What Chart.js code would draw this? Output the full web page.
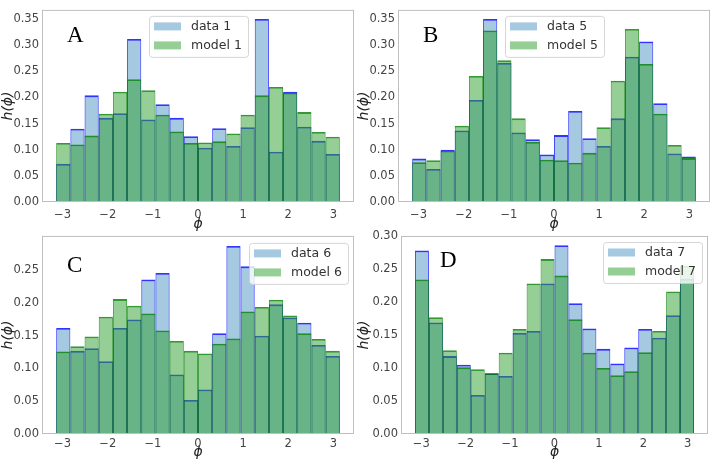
<!DOCTYPE html>
<html lang="en">
<head>
<meta charset="UTF-8" />
<title>h(phi) histograms: data vs model</title>
<script src="https://cdn.jsdelivr.net/npm/chart.js"></script>
<style>
  body { margin: 0; background: #fff; }
  .wrap { position: relative; width: 711px; height: 463px; overflow: hidden; }
  .panel { position: absolute; }
</style>
</head>
<body>
<div class="wrap">
  <div class="panel" style="left:0;top:0"><canvas id="chartA" width="356" height="233"></canvas></div>
  <div class="panel" style="left:356px;top:0"><canvas id="chartB" width="355" height="233"></canvas></div>
  <div class="panel" style="left:0;top:226px"><canvas id="chartC" width="356" height="237"></canvas></div>
  <div class="panel" style="left:356px;top:226px"><canvas id="chartD" width="355" height="237"></canvas></div>
</div>

<script>
// 20 bins over [-pi, pi]
const binCenters = [-2.98451, -2.67035, -2.35619, -2.04204, -1.72788, -1.41372, -1.09956, -0.78540, -0.47124, -0.15708,
                    0.15708, 0.47124, 0.78540, 1.09956, 1.41372, 1.72788, 2.04204, 2.35619, 2.67035, 2.98451];
const xTicks = [-3, -2, -1, 0, 1, 2, 3];
const yTicksAB = [0, 0.05, 0.10, 0.15, 0.20, 0.25, 0.30, 0.35];
const yTicksC = [0, 0.05, 0.10, 0.15, 0.20, 0.25];
const yTicksD = [0, 0.05, 0.10, 0.15, 0.20, 0.25, 0.30];

const data1  = [0.073, 0.140, 0.204, 0.161, 0.170, 0.312, 0.158, 0.187, 0.161, 0.126, 0.104, 0.141, 0.107, 0.143, 0.350, 0.096, 0.211, 0.144, 0.117, 0.092];
const model1 = [0.113, 0.110, 0.127, 0.169, 0.211, 0.235, 0.214, 0.167, 0.135, 0.113, 0.114, 0.116, 0.131, 0.167, 0.204, 0.220, 0.209, 0.172, 0.134, 0.125];

const data5  = [0.083, 0.063, 0.100, 0.137, 0.195, 0.350, 0.266, 0.133, 0.120, 0.091, 0.128, 0.174, 0.122, 0.107, 0.160, 0.278, 0.307, 0.189, 0.093, 0.087];
const model5 = [0.076, 0.080, 0.098, 0.146, 0.241, 0.328, 0.271, 0.160, 0.115, 0.081, 0.080, 0.075, 0.094, 0.143, 0.232, 0.331, 0.264, 0.169, 0.109, 0.084];

const data6  = [0.162, 0.127, 0.131, 0.111, 0.162, 0.175, 0.236, 0.246, 0.091, 0.052, 0.068, 0.154, 0.287, 0.256, 0.150, 0.198, 0.178, 0.170, 0.136, 0.119];
const model6 = [0.126, 0.134, 0.149, 0.179, 0.206, 0.196, 0.184, 0.158, 0.142, 0.127, 0.123, 0.138, 0.146, 0.187, 0.194, 0.205, 0.181, 0.154, 0.145, 0.127];

const data7  = [0.278, 0.169, 0.118, 0.105, 0.059, 0.092, 0.088, 0.153, 0.156, 0.228, 0.286, 0.198, 0.160, 0.129, 0.107, 0.131, 0.159, 0.146, 0.180, 0.235];
const model7 = [0.234, 0.177, 0.127, 0.101, 0.098, 0.092, 0.123, 0.159, 0.228, 0.265, 0.240, 0.174, 0.123, 0.100, 0.089, 0.095, 0.124, 0.156, 0.216, 0.255];

const dataFill = 'rgba(31,119,180,0.4)';
const modelFill = 'rgba(44,160,44,0.5)';

Chart.defaults.font.family = '"DejaVu Sans", sans-serif';

// frame, panel letter and in-axes legend
const panelDeco = {
  id: 'panelDeco',
  afterDatasetsDraw(chart, args, opts) {
    const { ctx, chartArea: a } = chart;
    ctx.save();
    ctx.strokeStyle = '#bfbfbf';
    ctx.lineWidth = 1;
    ctx.strokeRect(a.left + 0.5, a.top + 0.5, a.right - a.left - 1, a.bottom - a.top - 1);

    ctx.fillStyle = '#000';
    ctx.font = '23px "Liberation Serif", serif';
    ctx.textBaseline = 'alphabetic';
    ctx.textAlign = 'left';
    ctx.fillText(opts.letter, a.left + opts.letterDx, a.top + opts.letterDy);

    const w = 99, h = 41;
    const x = opts.legendAlign === 'center' ? Math.round((a.left + a.right) / 2 - w / 2) : a.right - 6 - w;
    const y = a.top + opts.legendDy;
    ctx.beginPath();
    ctx.roundRect(x + 0.5, y + 0.5, w, h, 3);
    ctx.fillStyle = 'rgba(255,255,255,0.8)';
    ctx.fill();
    ctx.strokeStyle = 'rgba(204,204,204,0.8)';
    ctx.stroke();

    const fills = [dataFill, modelFill];
    ctx.font = '12.5px "DejaVu Sans", sans-serif';
    ctx.textBaseline = 'middle';
    opts.labels.forEach((lab, i) => {
      const cy = y + 10.5 + i * 19;
      ctx.fillStyle = fills[i];
      ctx.fillRect(x + 5, cy - 4, 27, 8);
      ctx.fillStyle = '#333';
      ctx.fillText(lab, x + 42, cy + 0.5);
    });
    ctx.restore();
  }
};

function makeChart(id, dataVals, modelVals, yMax, yTicks, deco, lay) {
  const barStyle = {
    barPercentage: 1,
    categoryPercentage: 1,
    grouped: false,
    inflateAmount: 0,
    borderSkipped: false,
    borderWidth: { top: 1.8, left: 0.9, right: 0.9, bottom: 0 }
  };
  return new Chart(document.getElementById(id), {
    type: 'bar',
    data: {
      datasets: [
        Object.assign({
          label: deco.labels[0],
          data: binCenters.map((x, i) => ({ x: x, y: dataVals[i] })),
          backgroundColor: dataFill,
          borderColor: 'rgba(0,0,255,0.8)',
          order: 1
        }, barStyle),
        Object.assign({
          label: deco.labels[1],
          data: binCenters.map((x, i) => ({ x: x, y: modelVals[i] })),
          backgroundColor: modelFill,
          borderColor: 'rgba(0,128,0,0.8)',
          order: 0
        }, barStyle)
      ]
    },
    options: {
      responsive: false,
      animation: false,
      devicePixelRatio: 1,
      layout: { padding: lay.padding },
      plugins: {
        legend: { display: false },
        tooltip: { enabled: false },
        panelDeco: deco
      },
      scales: {
        x: {
          type: 'linear',
          min: -3.4558,
          max: 3.4558,
          offset: false,
          grid: { display: false, drawTicks: false, offset: false },
          border: { display: false },
          afterBuildTicks: s => { s.ticks = xTicks.map(v => ({ value: v })); },
          afterFit: s => { s.height = lay.xh; },
          ticks: {
            padding: lay.xpad,
            color: '#444',
            font: { size: 11.5 },
            maxRotation: 0,
            callback: v => (v < 0 ? '\u2212' : '') + Math.abs(v)
          },
          title: { display: true, text: '\u03d5', color: '#222', padding: 0,
                   font: { size: 14, style: 'italic' } }
        },
        y: {
          min: 0,
          max: yMax,
          grid: { display: false, drawTicks: false },
          border: { display: false },
          afterBuildTicks: s => { s.ticks = yTicks.map(v => ({ value: v })); },
          afterFit: s => { s.width = lay.yw; },
          ticks: {
            padding: 3,
            color: '#444',
            font: { size: 11.5 },
            callback: v => v.toFixed(2)
          },
          title: { display: true, text: 'h(\u03d5)', color: '#222', padding: 0,
                   font: { size: 14, style: 'italic' } }
        }
      }
    },
    plugins: [panelDeco]
  });
}

makeChart('chartA', data1, model1, 0.3675, yTicksAB,
  { letter: 'A', letterDx: 25, letterDy: 32, legendAlign: 'center', legendDy: 6, labels: ['data 1', 'model 1'] },
  { padding: { top: 1, right: 2, bottom: 0, left: 0 }, xh: 31, yw: 42, xpad: 6 });

makeChart('chartB', data5, model5, 0.3675, yTicksAB,
  { letter: 'B', letterDx: 25, letterDy: 32, legendAlign: 'center', legendDy: 6, labels: ['data 5', 'model 5'] },
  { padding: { top: 1, right: 1, bottom: 0, left: 0 }, xh: 31, yw: 42, xpad: 6 });

makeChart('chartC', data6, model6, 0.3025, yTicksC,
  { letter: 'C', letterDx: 25, letterDy: 36, legendAlign: 'right', legendDy: 7, labels: ['data 6', 'model 6'] },
  { padding: { top: 5, right: 2, bottom: 2, left: 0 }, xh: 27, yw: 42, xpad: 3 });

makeChart('chartD', data7, model7, 0.30, yTicksD,
  { letter: 'D', letterDx: 39, letterDy: 31, legendAlign: 'right', legendDy: 6, labels: ['data 7', 'model 7'] },
  { padding: { top: 10, right: 3, bottom: 2, left: 0 }, xh: 27, yw: 45, xpad: 3 });
</script>
</body>
</html>
